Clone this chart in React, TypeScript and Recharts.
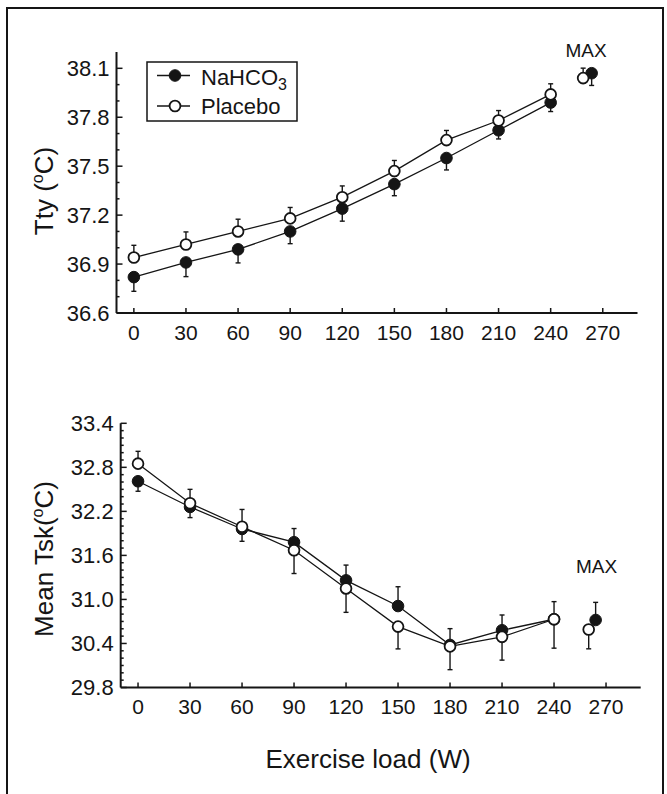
import React from 'react';
import { LineChart, Line, XAxis, YAxis, ErrorBar, ReferenceDot } from 'recharts';

const FONT = '"Liberation Sans", Arial, Helvetica, sans-serif';
const INK = '#151515';

// Exercise loads (W)
const loads = [0, 30, 60, 90, 120, 150, 180, 210, 240];
const xTicks = [0, 30, 60, 90, 120, 150, 180, 210, 240, 270];

// Top panel: tympanic temperature (°C)
const ttyMajorTicks = [36.6, 36.9, 37.2, 37.5, 37.8, 38.1];
const ttyMinorTicks = [36.7, 36.8, 37.0, 37.1, 37.3, 37.4, 37.6, 37.7, 37.9, 38.0];
const ttyNa = [36.82, 36.91, 36.99, 37.1, 37.24, 37.39, 37.55, 37.72, 37.89];
const ttyNaErrDown = [0.087, 0.087, 0.083, 0.075, 0.077, 0.071, 0.073, 0.053, 0.055];
const ttyPl = [36.94, 37.02, 37.1, 37.18, 37.31, 37.47, 37.66, 37.78, 37.94];
const ttyPlErrUp = [0.075, 0.077, 0.075, 0.067, 0.069, 0.065, 0.059, 0.061, 0.065];
// MAX points: [NaHCO3, Placebo]
const ttyMaxLoads = [263.6, 258.7];
const ttyMaxValues = [38.07, 38.04];
const ttyMaxErrDown = [0.075, 0];
const ttyMaxErrUp = [0, 0.061];

// Bottom panel: mean skin temperature (°C)
const tskMajorTicks = [29.8, 30.4, 31.0, 31.6, 32.2, 32.8, 33.4];
const tskMinorTicks = [
  29.9, 30.0, 30.1, 30.2, 30.3, 30.5, 30.6, 30.7, 30.8, 30.9, 31.1, 31.2, 31.3, 31.4, 31.5,
  31.7, 31.8, 31.9, 32.0, 32.1, 32.3, 32.4, 32.5, 32.6, 32.7, 32.9, 33.0, 33.1, 33.2, 33.3,
];
const tskNa = [32.61, 32.26, 31.96, 31.78, 31.26, 30.91, 30.38, 30.58, 30.73];
const tskNaErrDown = [0.136, 0.145, 0.168, 0, 0, 0, 0, 0, 0];
const tskNaErrUp = [0, 0, 0, 0.186, 0.208, 0.263, 0.222, 0.208, 0.24];
const tskPl = [32.85, 32.31, 31.99, 31.67, 31.15, 30.63, 30.36, 30.49, 30.73];
const tskPlErrDown = [0, 0, 0, 0.317, 0.326, 0.304, 0.317, 0.317, 0.394];
const tskPlErrUp = [0.168, 0.19, 0.236, 0, 0, 0, 0, 0, 0];
const tskMaxLoads = [264, 260];
const tskMaxValues = [30.72, 30.59];
const tskMaxErrDown = [0, 0.263];
const tskMaxErrUp = [0.24, 0];

const seriesNames = ['NaHCO', 'Placebo'];

type Row = { x: number; y: number; err: [number, number] };

function buildRows(xs: number[], ys: number[], down?: number[], up?: number[]): Row[] {
  return xs.map((x, i) => ({
    x,
    y: ys[i],
    err: [down ? down[i] : 0, up ? up[i] : 0] as [number, number],
  }));
}

const ttyNaRows = buildRows(loads, ttyNa, ttyNaErrDown, undefined);
const ttyPlRows = buildRows(loads, ttyPl, undefined, ttyPlErrUp);
const ttyNaMax = buildRows([ttyMaxLoads[0]], [ttyMaxValues[0]], [ttyMaxErrDown[0]], [ttyMaxErrUp[0]]);
const ttyPlMax = buildRows([ttyMaxLoads[1]], [ttyMaxValues[1]], [ttyMaxErrDown[1]], [ttyMaxErrUp[1]]);

const tskNaRows = buildRows(loads, tskNa, tskNaErrDown, tskNaErrUp);
const tskPlRows = buildRows(loads, tskPl, tskPlErrDown, tskPlErrUp);
const tskNaMax = buildRows([tskMaxLoads[0]], [tskMaxValues[0]], [tskMaxErrDown[0]], [tskMaxErrUp[0]]);
const tskPlMax = buildRows([tskMaxLoads[1]], [tskMaxValues[1]], [tskMaxErrDown[1]], [tskMaxErrUp[1]]);

const filledDot = { r: 5.8, fill: INK, stroke: INK, strokeWidth: 1 };
const openDot = { r: 5.4, fill: '#ffffff', stroke: INK, strokeWidth: 1.8 };

function makeYTick(majors: number[]) {
  return (props: any) => {
    const { x, y, payload } = props;
    const v = Number(payload.value);
    const isMajor = majors.some((m) => Math.abs(m - v) < 1e-6);
    return (
      <g>
        <line x1={x} x2={x + (isMajor ? 6 : 3)} y1={y} y2={y} stroke={INK} strokeWidth={1.5} />
        {isMajor && (
          <text
            x={x - 7}
            y={y}
            dy="0.36em"
            textAnchor="end"
            fontSize={22}
            fontFamily={FONT}
            fill={INK}
          >
            {v.toFixed(1)}
          </text>
        )}
      </g>
    );
  };
}

function makeXTick(labelGap: number) {
  return (props: any) => {
    const { x, y, payload } = props;
    return (
      <g>
        <line x1={x} x2={x} y1={y} y2={y - 5} stroke={INK} strokeWidth={1.5} />
        <text x={x} y={y + labelGap} textAnchor="middle" fontSize={21} fontFamily={FONT} fill={INK}>
          {payload.value}
        </text>
      </g>
    );
  };
}

const maxLabel = {
  value: 'MAX',
  position: 'center' as const,
  fontSize: 19,
  fontFamily: FONT,
  fill: INK,
};

function Series({ rows, dot, name }: { rows: Row[]; dot: any; name: string }) {
  return null;
}

function TopChart() {
  return (
    <LineChart width={667} height={360} margin={{ top: 52, right: 29.5, left: 0, bottom: 0 }}>
      <XAxis
        type="number"
        dataKey="x"
        domain={[-10, 290]}
        ticks={xTicks}
        interval={0}
        allowDataOverflow
        height={47}
        tickLine={false}
        tickSize={0}
        tickMargin={0}
        axisLine={{ stroke: INK, strokeWidth: 2 }}
        tick={makeXTick(27)}
      />
      <YAxis
        type="number"
        domain={[36.6, 38.2]}
        ticks={[...ttyMajorTicks, ...ttyMinorTicks].sort((a, b) => a - b)}
        interval={0}
        allowDataOverflow
        width={116.5}
        tickLine={false}
        tickSize={0}
        tickMargin={0}
        axisLine={{ stroke: INK, strokeWidth: 2 }}
        tick={makeYTick(ttyMajorTicks)}
      />
      <Line data={ttyNaRows} dataKey="y" name={seriesNames[0]} stroke={INK} strokeWidth={1.3} dot={filledDot} isAnimationActive={false}>
        <ErrorBar dataKey="err" width={2.5} stroke={INK} strokeWidth={1.4} direction="y" />
      </Line>
      <Line data={ttyNaMax} dataKey="y" name={seriesNames[0]} stroke="none" dot={filledDot} isAnimationActive={false}>
        <ErrorBar dataKey="err" width={2.5} stroke={INK} strokeWidth={1.4} direction="y" />
      </Line>
      <Line data={ttyPlRows} dataKey="y" name={seriesNames[1]} stroke={INK} strokeWidth={1.3} dot={openDot} isAnimationActive={false}>
        <ErrorBar dataKey="err" width={2.5} stroke={INK} strokeWidth={1.4} direction="y" />
      </Line>
      <Line data={ttyPlMax} dataKey="y" name={seriesNames[1]} stroke="none" dot={openDot} isAnimationActive={false}>
        <ErrorBar dataKey="err" width={2.5} stroke={INK} strokeWidth={1.4} direction="y" />
      </Line>
      <ReferenceDot x={260.4} y={38.21} r={0} fill="none" stroke="none" ifOverflow="visible" label={maxLabel} />
    </LineChart>
  );
}

function BottomChart() {
  return (
    <LineChart width={667} height={414} margin={{ top: 43.3, right: 26.3, left: 0, bottom: 0 }}>
      <XAxis
        type="number"
        dataKey="x"
        domain={[-10, 290]}
        ticks={xTicks}
        interval={0}
        allowDataOverflow
        height={106.5}
        tickLine={false}
        tickSize={0}
        tickMargin={0}
        axisLine={{ stroke: INK, strokeWidth: 2 }}
        tick={makeXTick(26)}
      />
      <YAxis
        type="number"
        domain={[29.8, 33.4]}
        ticks={[...tskMajorTicks, ...tskMinorTicks].sort((a, b) => a - b)}
        interval={0}
        allowDataOverflow
        width={120.7}
        tickLine={false}
        tickSize={0}
        tickMargin={0}
        axisLine={{ stroke: INK, strokeWidth: 2 }}
        tick={makeYTick(tskMajorTicks)}
      />
      <Line data={tskNaRows} dataKey="y" name={seriesNames[0]} stroke={INK} strokeWidth={1.3} dot={filledDot} isAnimationActive={false}>
        <ErrorBar dataKey="err" width={2.5} stroke={INK} strokeWidth={1.4} direction="y" />
      </Line>
      <Line data={tskNaMax} dataKey="y" name={seriesNames[0]} stroke="none" dot={filledDot} isAnimationActive={false}>
        <ErrorBar dataKey="err" width={2.5} stroke={INK} strokeWidth={1.4} direction="y" />
      </Line>
      <Line data={tskPlRows} dataKey="y" name={seriesNames[1]} stroke={INK} strokeWidth={1.3} dot={openDot} isAnimationActive={false}>
        <ErrorBar dataKey="err" width={2.5} stroke={INK} strokeWidth={1.4} direction="y" />
      </Line>
      <Line data={tskPlMax} dataKey="y" name={seriesNames[1]} stroke="none" dot={openDot} isAnimationActive={false}>
        <ErrorBar dataKey="err" width={2.5} stroke={INK} strokeWidth={1.4} direction="y" />
      </Line>
      <ReferenceDot x={264.5} y={31.45} r={0} fill="none" stroke="none" ifOverflow="visible" label={maxLabel} />
    </LineChart>
  );
}

function Overlay() {
  return (
    <svg
      width={667}
      height={794}
      style={{ position: 'absolute', left: 0, top: 0, pointerEvents: 'none' }}
    >
      {/* Legend */}
      <rect x={147} y={62} width={150} height={59} fill="#fff" stroke={INK} strokeWidth={1.5} />
      <line x1={157} x2={190} y1={75.5} y2={75.5} stroke={INK} strokeWidth={1.3} />
      <circle cx={175} cy={75.5} r={5.8} fill={INK} stroke={INK} />
      <text x={201} y={85} fontSize={22} fontFamily={FONT} fill={INK}>
        {seriesNames[0]}
        <tspan fontSize={16} dy={5}>3</tspan>
      </text>
      <line x1={157} x2={190} y1={106} y2={106} stroke={INK} strokeWidth={1.3} />
      <circle cx={175} cy={106} r={5.4} fill="#fff" stroke={INK} strokeWidth={1.8} />
      <text x={201} y={114} fontSize={22} fontFamily={FONT} fill={INK}>
        {seriesNames[1]}
      </text>

      {/* Y titles */}
      <text
        x={53}
        y={191}
        transform="rotate(-90 53 191)"
        textAnchor="middle"
        fontSize={26}
        fontFamily={FONT}
        fill={INK}
      >
        {'Tty ('}
        <tspan fontSize={16} dy={-10}>o</tspan>
        <tspan dy={10}>C)</tspan>
      </text>
      <text
        x={53}
        y={559}
        transform="rotate(-90 53 559)"
        textAnchor="middle"
        fontSize={26}
        fontFamily={FONT}
        fill={INK}
      >
        {'Mean Tsk('}
        <tspan fontSize={16} dy={-10}>o</tspan>
        <tspan dy={10}>C)</tspan>
      </text>

      {/* X title */}
      <text x={368} y={768} textAnchor="middle" fontSize={26} fontFamily={FONT} fill={INK}>
        Exercise load (W)
      </text>
    </svg>
  );
}

export default function App() {
  return (
    <div
      style={{
        position: 'absolute',
        left: 0,
        top: 0,
        width: 667,
        height: 794,
        overflow: 'hidden',
        background: '#fff',
        fontFamily: FONT,
      }}
    >
      <div
        style={{
          position: 'absolute',
          left: 6,
          top: 7,
          width: 658,
          height: 820,
          border: `2px solid ${INK}`,
          boxSizing: 'border-box',
        }}
      />
      <div style={{ position: 'absolute', left: 0, top: 0 }}>
        <TopChart />
      </div>
      <div style={{ position: 'absolute', left: 0, top: 380 }}>
        <BottomChart />
      </div>
      <Overlay />
    </div>
  );
}
